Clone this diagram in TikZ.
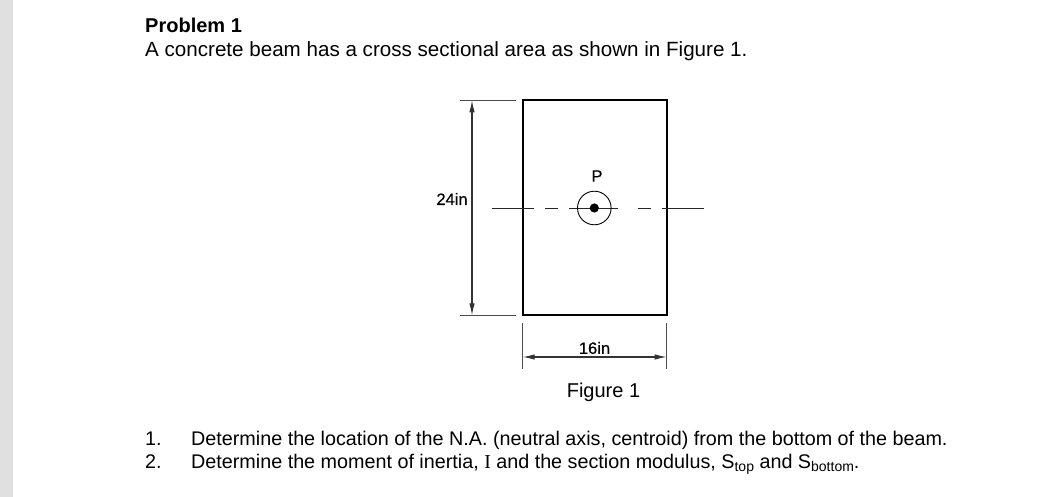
\documentclass[tikz,border=0pt]{standalone}
\usepackage{fontspec}
\setmainfont{Liberation Sans}
\newfontfamily\serifI{Liberation Serif}
\newfontfamily\cadfont[FakeBold=0.4]{Liberation Sans}
\usetikzlibrary{arrows.meta}
\tikzset{
  txt/.style={anchor=base west, inner sep=0pt, font=\fontsize{19.75}{22}\selectfont},
  cadtxt/.style={inner sep=0pt, font=\cadfont\fontsize{16.5}{18}\selectfont},
  dimline/.style={line width=1.1pt, draw=black!80},
  dimarrow/.style={dimline, {Latex[length=12pt,width=5.5pt]}-{Latex[length=12pt,width=5.5pt]}},
  extline/.style={line width=0.8pt, draw=black!70},
  axisline/.style={line width=0.9pt, draw=black!85}
}
\newcommand{\lowsub}[1]{\raisebox{-3pt}{\fontsize{14}{15}\selectfont #1}}
\begin{document}
\begin{tikzpicture}[x=1pt,y=-1pt]
  \useasboundingbox (0,0) rectangle (1062,497);
  \fill[black!12] (0,0) rectangle (13,497);

  % Define points
  \coordinate (A) at (522.7,100.3);
  \coordinate (B) at (666.7,100.3);
  \coordinate (C) at (666.7,315.3);
  \coordinate (D) at (522.7,315.3);
  \coordinate (P) at (594.3,208);

  % Heading and question text
  \node[txt] (head) at (145,33) {\fontsize{20}{22}\selectfont\textbf{Problem 1}};
  \node[txt] (intro) at (145,57) {\fontsize{20.6}{22}\selectfont A concrete beam has a cross sectional area as shown in Figure 1.};
  \node[txt] (num1) at (145,445) {1.};
  \node[txt] (q1) at (191,445) {Determine the location of the N.A. (neutral axis, centroid) from the bottom of the beam.};
  \node[txt] (num2) at (145,468) {2.};
  \node[txt] (q2) at (191,468) {Determine the moment of inertia, {\serifI I} and the section modulus, S\lowsub{top} and S\lowsub{bottom}.};

  % Draw beam section
  \draw[line width=1.8pt] (A) -- (B) -- (C) -- (D) -- cycle;

  % Draw neutral axis
  \draw[axisline] (492,208) -- (534,208);
  \draw[axisline] (545,208) -- (557.7,208);
  \draw[axisline] (569,208) -- (618,208);
  \draw[axisline] (638,208) -- (651,208);
  \draw[axisline] (662,208) -- (704,208);

  % Draw hole at P
  \draw[line width=0.9pt] (P) circle (16.8);
  \fill (P) circle (4.6);
  \node[cadtxt] (Plabel) at (597,176) {P};

  % Height dimension
  \coordinate (T1) at (460,100.3);
  \coordinate (T2) at (515.6,100.3);
  \coordinate (B1) at (460,315.3);
  \coordinate (B2) at (515.6,315.3);
  \coordinate (V1) at (472,100.3);
  \coordinate (V2) at (472,315.3);
  \draw[extline] (T1) -- (T2);
  \draw[extline] (B1) -- (B2);
  \draw[dimarrow] (V1) -- (V2);
  \node[cadtxt] (hgt) at (452,199) {24in};

  % Width dimension
  \coordinate (L1) at (522.7,322.7);
  \coordinate (L2) at (522.7,369.3);
  \coordinate (R1) at (666.7,322.7);
  \coordinate (R2) at (666.7,369.3);
  \coordinate (H1) at (522.7,357);
  \coordinate (H2) at (666.7,357);
  \draw[extline] (L1) -- (L2);
  \draw[extline] (R1) -- (R2);
  \draw[dimarrow] (H1) -- (H2);
  \node[cadtxt] (wid) at (594.5,348) {16in};

  \node[txt, anchor=base] (fig) at (603.5,397) {\fontsize{20}{22}\selectfont Figure 1};
\end{tikzpicture}
\end{document}
